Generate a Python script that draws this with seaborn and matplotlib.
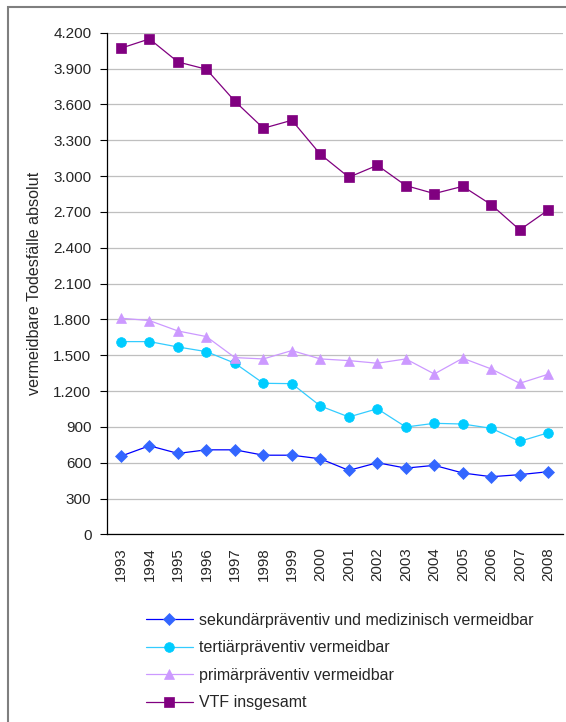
import matplotlib
matplotlib.use("Agg")
import matplotlib.pyplot as plt
from matplotlib.patches import Rectangle
import seaborn as sns
import pandas as pd

years = [str(y) for y in range(1993, 2009)]
sekundaer = [655, 742, 678, 708, 708, 663, 663, 633, 536, 600, 555, 578, 514, 483, 500, 525]
tertiaer = [1614, 1614, 1569, 1530, 1433, 1265, 1262, 1075, 983, 1052, 899, 930, 924, 888, 779, 851]
primaer = [1810, 1790, 1703, 1656, 1480, 1469, 1539, 1469, 1455, 1433, 1469, 1343, 1475, 1385, 1265, 1341]
vtf = [4070, 4148, 3955, 3894, 3626, 3400, 3467, 3182, 2990, 3090, 2920, 2853, 2914, 2760, 2549, 2716]

labels = ["sekundärpräventiv und medizinisch vermeidbar",
          "tertiärpräventiv vermeidbar",
          "primärpräventiv vermeidbar",
          "VTF insgesamt"]
yticks = list(range(0, 4201, 300))
ytick_labels = ["0", "300", "600", "900", "1.200", "1.500", "1.800", "2.100",
                "2.400", "2.700", "3.000", "3.300", "3.600", "3.900", "4.200"]

sns.set_style("white")
plt.rcParams["font.family"] = ["Liberation Sans", "DejaVu Sans"]

fig = plt.figure(figsize=(5.66, 7.22), dpi=100)
ax = fig.add_axes([106.7 / 566, 1 - 534.4 / 722, (562.5 - 106.7) / 566, (534.4 - 32.7) / 722])

series = [
    (sekundaer, labels[0], "#0000FF", "#3366FF", "D", 6.2),
    (tertiaer, labels[1], "#33CCFF", "#00CCFF", "o", 7.0),
    (primaer, labels[2], "#CC99FF", "#CC99FF", "^", 7.4),
    (vtf, labels[3], "#800080", "#800080", "s", 6.8),
]

for vals, lab, lc, mc, mk, ms in series:
    df = pd.DataFrame({"Jahr": years, "Wert": vals})
    sns.lineplot(data=df, x="Jahr", y="Wert", ax=ax, color=lc, marker=mk,
                 markersize=ms, markerfacecolor=mc, markeredgecolor=mc,
                 markeredgewidth=0.5, linewidth=0.9, label=lab, sort=False)

ax.set_xlim(-0.5, len(years) - 0.5)
ax.set_ylim(0, 4200)
ax.set_yticks(yticks)
ax.set_yticklabels(ytick_labels, fontsize=11)
ax.yaxis.grid(True, color="#BFBFBF", linewidth=0.9)
ax.xaxis.grid(False)
ax.set_axisbelow(True)

# major ticks at category borders, labels at centers
ax.set_xticks([i - 0.5 for i in range(len(years) + 1)])
ax.set_xticklabels([])
ax.set_xticks(list(range(len(years))), minor=True)
ax.set_xticklabels(years, minor=True, rotation=90, fontsize=10.8)
ax.tick_params(axis="x", which="major", direction="out", length=5, width=0.8, color="black")
ax.tick_params(axis="x", which="minor", length=0, pad=9)
ax.tick_params(axis="y", direction="out", length=5, width=0.8, color="black", left=True, pad=6)

for s in ["top", "right"]:
    ax.spines[s].set_visible(False)
for s in ["left", "bottom"]:
    ax.spines[s].set_color("black")
    ax.spines[s].set_linewidth(0.9)

ax.set_xlabel("")
ax.set_ylabel("vermeidbare Todesfälle absolut", fontsize=11.6, labelpad=8)

handles, labs = ax.get_legend_handles_labels()
ax.get_legend().remove()
fig.legend(handles, labs, loc="upper left", bbox_to_anchor=(146 / 566, 1 - 613 / 722),
           frameon=False, fontsize=11.5, handlelength=2.94, handletextpad=0.38,
           labelspacing=0.78, borderaxespad=0, borderpad=0)

fig.patches.append(Rectangle((7.5 / 566, -0.1), 1.2, 1 - 7 / 722 + 0.1,
                             transform=fig.transFigure, fill=False,
                             edgecolor="#7F7F7F", linewidth=1.5, zorder=10))

fig.savefig("out.png", dpi=100, facecolor="white")
